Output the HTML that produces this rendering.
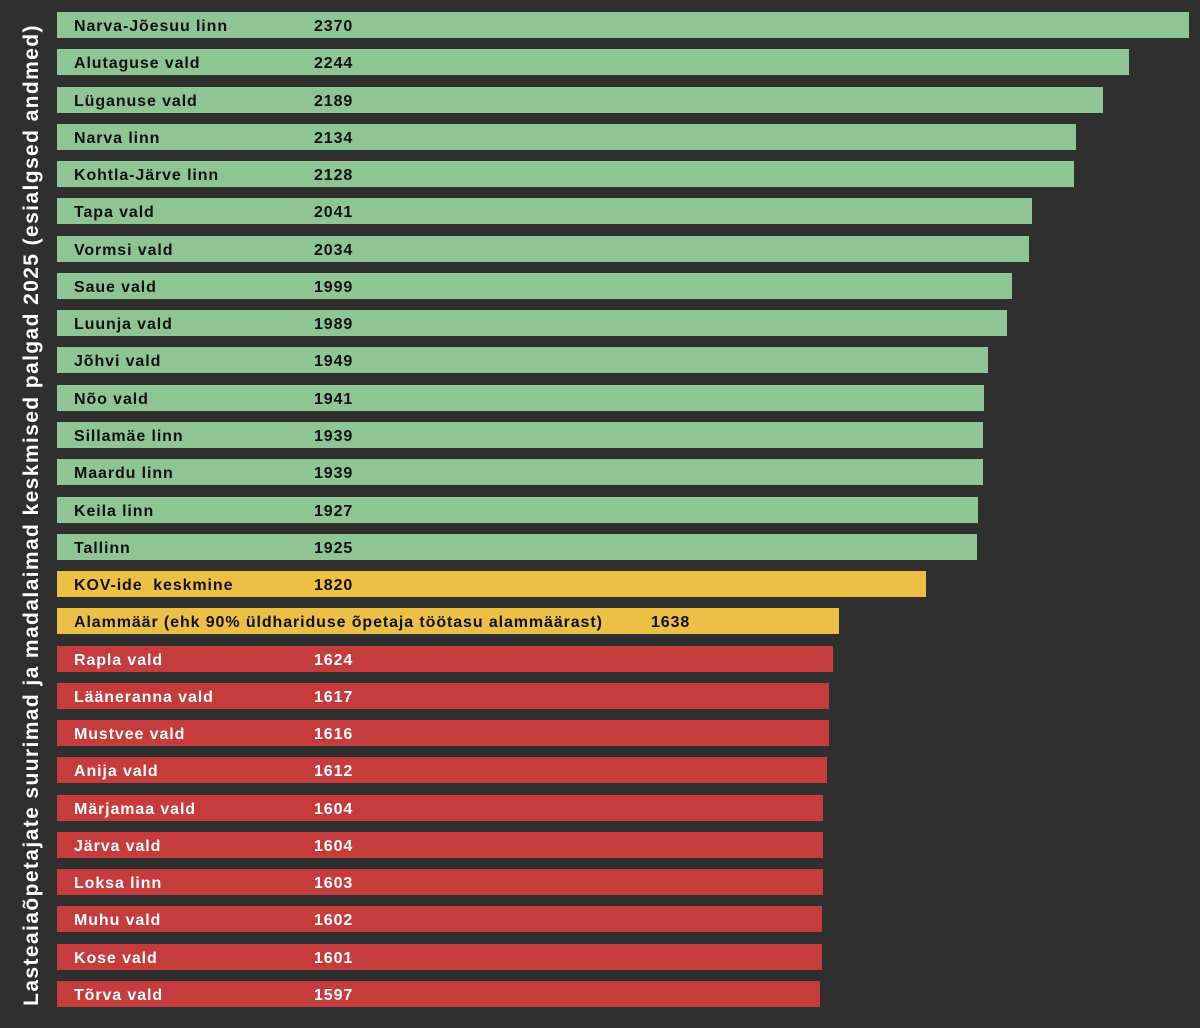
<!DOCTYPE html>
<html><head><meta charset="utf-8"><style>
body{margin:0;width:1200px;height:1028px;background:#2f2f2f;position:relative;overflow:hidden;font-family:"Liberation Sans",sans-serif;font-weight:bold;}
.b{position:absolute;left:57px;height:26px;}
.l{position:absolute;left:74px;font-size:16px;line-height:26px;letter-spacing:0.9px;margin-top:2px;}
.v{position:absolute;left:314px;font-size:16px;line-height:26px;letter-spacing:0.9px;margin-top:2px;}
.t{position:absolute;left:32px;top:515px;transform:translate(-50%,-50%) rotate(-90deg);white-space:nowrap;color:#fff;font-size:21px;letter-spacing:1.4px;}
</style></head><body>
<div class="t">Lasteaiaõpetajate suurimad ja madalaimad keskmised palgad 2025 (esialgsed andmed)</div>
<div id="c"></div>
<script>
var d=[["Narva-Jõesuu linn",2370,"g"],["Alutaguse vald",2244,"g"],["Lüganuse vald",2189,"g"],["Narva linn",2134,"g"],["Kohtla-Järve linn",2128,"g"],["Tapa vald",2041,"g"],["Vormsi vald",2034,"g"],["Saue vald",1999,"g"],["Luunja vald",1989,"g"],["Jõhvi vald",1949,"g"],["Nõo vald",1941,"g"],["Sillamäe linn",1939,"g"],["Maardu linn",1939,"g"],["Keila linn",1927,"g"],["Tallinn",1925,"g"],["KOV-ide&nbsp; keskmine",1820,"y"],["Alammäär (ehk 90% üldhariduse õpetaja töötasu alammäärast)",1638,"y"],["Rapla vald",1624,"r"],["Lääneranna vald",1617,"r"],["Mustvee vald",1616,"r"],["Anija vald",1612,"r"],["Märjamaa vald",1604,"r"],["Järva vald",1604,"r"],["Loksa linn",1603,"r"],["Muhu vald",1602,"r"],["Kose vald",1601,"r"],["Tõrva vald",1597,"r"]];
var col={g:"#8fc494",y:"#ecbf45",r:"#c63b3c"},h="";
d.forEach(function(r,i){var y=12+i*37.27,w=r[1]*0.4777,tc=r[2]=="r"?"#fff":"#111",vx=i==16?651:314;
h+='<div class="b" style="top:'+y+'px;width:'+w+'px;background:'+col[r[2]]+'"></div><div class="l" style="top:'+y+'px;color:'+tc+'">'+r[0]+'</div><div class="v" style="left:'+vx+'px;top:'+y+'px;color:'+tc+'">'+r[1]+'</div>';});
document.getElementById("c").innerHTML=h;
</script>
</body></html>
